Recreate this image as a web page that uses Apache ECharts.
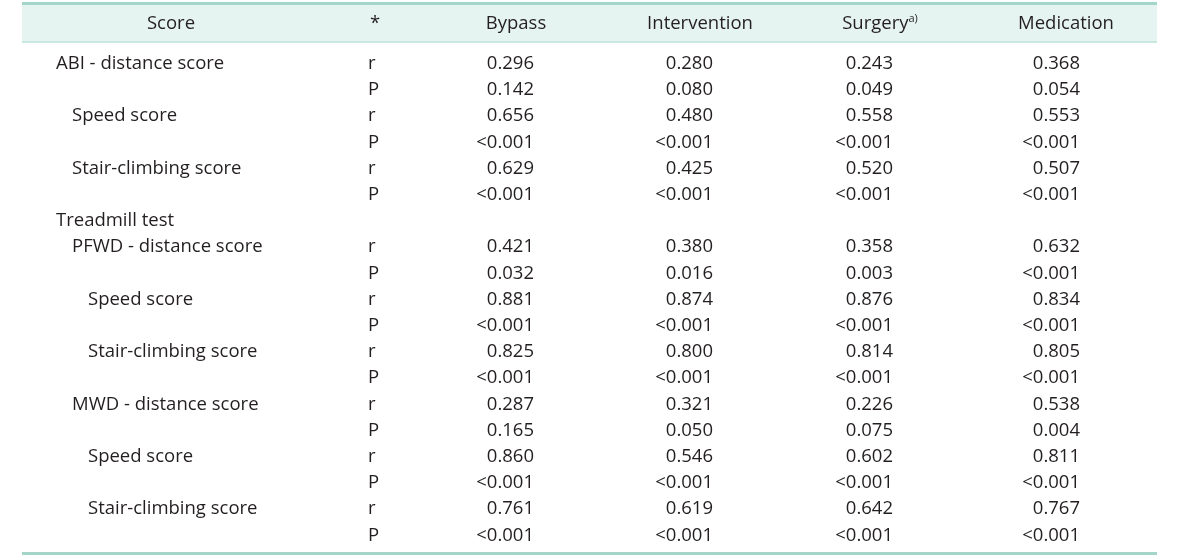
<!DOCTYPE html>
<html>
<head>
<meta charset="utf-8">
<script src="https://cdn.jsdelivr.net/npm/echarts@6/dist/echarts.min.js"></script>
<style>html,body{margin:0;padding:0;background:#fff}#c{width:1200px;height:557px}</style>
</head>
<body>
<div id="c"></div>
<script>
// ---- data ----
var headers = ['Score', '*', 'Bypass', 'Intervention', 'Surgery', 'Medication'];
var headerSup = ['', '', '', '', 'a)', ''];
var rowLabels = ['ABI - distance score', '', 'Speed score', '', 'Stair-climbing score', '',
  'Treadmill test', 'PFWD - distance score', '', 'Speed score', '', 'Stair-climbing score', '',
  'MWD - distance score', '', 'Speed score', '', 'Stair-climbing score', ''];
var rowLevels = [0, 0, 1, 1, 1, 1, 0, 1, 1, 2, 2, 2, 2, 1, 1, 2, 2, 2, 2];
var stats = ['r', 'P', 'r', 'P', 'r', 'P', '', 'r', 'P', 'r', 'P', 'r', 'P', 'r', 'P', 'r', 'P', 'r', 'P'];
var bypass = ['0.296', '0.142', '0.656', '<0.001', '0.629', '<0.001', '', '0.421', '0.032', '0.881', '<0.001', '0.825', '<0.001', '0.287', '0.165', '0.860', '<0.001', '0.761', '<0.001'];
var intervention = ['0.280', '0.080', '0.480', '<0.001', '0.425', '<0.001', '', '0.380', '0.016', '0.874', '<0.001', '0.800', '<0.001', '0.321', '0.050', '0.546', '<0.001', '0.619', '<0.001'];
var surgery = ['0.243', '0.049', '0.558', '<0.001', '0.520', '<0.001', '', '0.358', '0.003', '0.876', '<0.001', '0.814', '<0.001', '0.226', '0.075', '0.602', '<0.001', '0.642', '<0.001'];
var medication = ['0.368', '0.054', '0.553', '<0.001', '0.507', '<0.001', '', '0.632', '<0.001', '0.834', '<0.001', '0.805', '<0.001', '0.538', '0.004', '0.811', '<0.001', '0.767', '<0.001'];

// ---- layout (positions / styles) ----
var FONT = '"Open Sans", sans-serif';
var FS = 18.5;
var TXT = '#231f20';
var labelX = [56, 72, 88];           // indent anchors by level
var statX = 368;                     // left anchor of r/P column
var valueRight = [534, 713, 893, 1080]; // right anchors of value columns
var headerCenter = [171, 375, 516, 700, 880, 1066];

var rowCats = rowLabels.map(function (_, i) { return String(i); });
var valueCols = [bypass, intervention, surgery, medication];

// body cells: [x anchor, row index, text, align]
var bodyData = [];
rowLabels.forEach(function (t, i) {
  if (t) bodyData.push([labelX[rowLevels[i]], i, t, 'left']);
  if (stats[i]) bodyData.push([statX, i, stats[i], 'left']);
  valueCols.forEach(function (col, c) {
    if (col[i]) bodyData.push([valueRight[c], i, col[i], 'right']);
  });
});
var headData = headers.map(function (h, i) {
  return [headerCenter[i], 0, h, 'center', headerSup[i]];
});

function textItem(api, params, isHead) {
  var p = api.coord([api.value(0), api.value(1)]);
  var txt = api.value(2);
  var sup = isHead ? api.value(4) : '';
  var style = {
    x: p[0], y: p[1],
    text: sup ? txt + '{s|' + sup + '}' : txt,
    align: api.value(3),
    verticalAlign: 'middle',
    font: FS + 'px ' + FONT,
    fill: TXT
  };
  if (sup) {
    style.rich = { s: { fontSize: 11, fontFamily: FONT, fill: TXT, verticalAlign: 'top', padding: [0, 0, 9, 0] } };
  }
  return { type: 'text', style: style };
}

var chart = echarts.init(document.getElementById('c'), null, { renderer: 'canvas' });
chart.setOption({
  backgroundColor: '#ffffff',
  animation: false,
  grid: [
    { left: 0, right: 0, top: 50.5, bottom: 8.5, show: false },
    { left: 22, width: 1135, top: 5, height: 37, show: true, backgroundColor: '#e6f4f1', borderWidth: 0 }
  ],
  xAxis: [
    { gridIndex: 0, type: 'value', min: 0, max: 1200, show: false },
    { gridIndex: 1, type: 'value', min: 22, max: 1157, show: false }
  ],
  yAxis: [
    { gridIndex: 0, type: 'category', data: rowCats, inverse: true, show: false },
    { gridIndex: 1, type: 'category', data: ['h'], show: false }
  ],
  graphic: [
    { type: 'rect', shape: { x: 22, y: 2, width: 1135, height: 3 }, style: { fill: '#a3d6c8' } },
    { type: 'rect', shape: { x: 22, y: 41, width: 1135, height: 2 }, style: { fill: '#c9e8df' } },
    { type: 'rect', shape: { x: 22, y: 552, width: 1135, height: 3 }, style: { fill: '#a3d6c8' } }
  ],
  series: [
    {
      type: 'custom', xAxisIndex: 0, yAxisIndex: 0, data: bodyData,
      renderItem: function (params, api) { return textItem(api, params, false); }
    },
    {
      type: 'custom', xAxisIndex: 1, yAxisIndex: 1, data: headData,
      renderItem: function (params, api) { return textItem(api, params, true); }
    }
  ]
});
</script>
</body>
</html>
